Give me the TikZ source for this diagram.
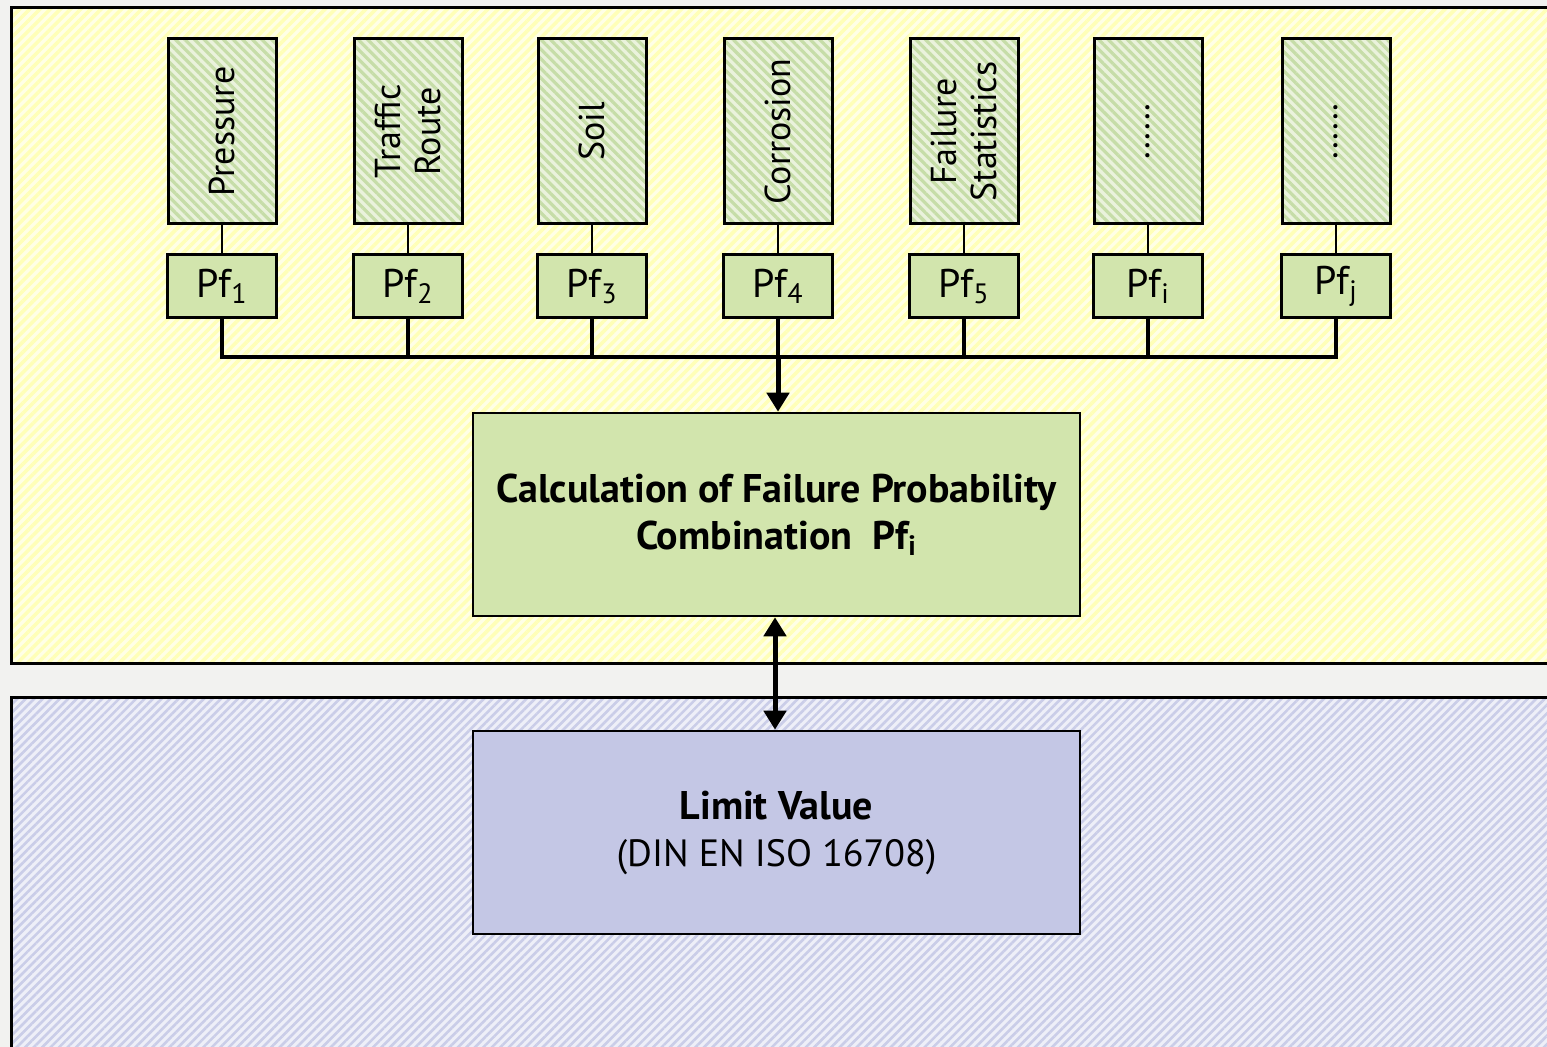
\documentclass[tikz,border=0pt]{standalone}
\usepackage{fontspec}
\setmainfont{PT Sans}
\usetikzlibrary{patterns.meta}
\usetikzlibrary{arrows.meta}

\definecolor{pageGray}{HTML}{F2F2F0}
\definecolor{panelYellow}{HTML}{FFFFE6}
\definecolor{stripeYellow}{HTML}{FFFFB8}
\definecolor{panelBlue}{HTML}{EEEFF8}
\definecolor{stripeBlue}{HTML}{CACDE8}
\definecolor{factorGreen}{HTML}{EAF2DC}
\definecolor{stripeGreen}{HTML}{C6DDA8}
\definecolor{boxGreen}{HTML}{D2E5AD}
\definecolor{limitBlue}{HTML}{C4C7E5}

\begin{document}
\begin{tikzpicture}
[x=0.5pt,y=-0.5pt,%
  panelDecorate/.style={draw,line width=1.5pt},%
  factorDecorate/.style={draw,line width=1.5pt,inner sep=0pt,
    minimum width=54pt,minimum height=92.5pt,preaction={fill=factorGreen},
    preaction={pattern={Lines[angle=-45,distance=3.4pt,line width=1.6pt]},pattern color=stripeGreen}},%
  pfDecorate/.style={draw,line width=1.5pt,fill=boxGreen,inner sep=0pt,
    minimum width=54.5pt,minimum height=31.5pt,font=\fontsize{20}{22}\selectfont},%
  resultDecorate/.style={draw,line width=1.3pt,inner sep=0pt,align=center,
    minimum width=303.5pt,minimum height=101.5pt,font=\fontsize{19}{23.5}\selectfont},%
  thinLine/.style={line width=0.8pt},%
  busLine/.style={line width=2pt},%
  arrowLine/.style={line width=2.5pt,-{Triangle[length=9.5pt,width=11pt]}},%
]
%% page and panels
\useasboundingbox (0,0) rectangle (1547,1047);
\clip (0,0) rectangle (1547,1047);
\fill[pageGray] (0,0) rectangle (1547,1047);
\path[panelDecorate,preaction={fill=panelYellow},
  preaction={pattern={Lines[angle=45,distance=3.6pt,line width=1.8pt]},pattern color=stripeYellow}]
  (11,8) rectangle (1560,663);
\path[panelDecorate,preaction={fill=panelBlue},
  preaction={pattern={Lines[angle=45,distance=3pt,line width=1.3pt]},pattern color=stripeBlue}]
  (11,697) rectangle (1560,1060);
%% factor boxes and their probabilities
\foreach \nodename/\x/\factor/\sub in {
  1/222/Pressure/1, 2/408/{Traffic\\Route}/2, 3/592/Soil/3,
  4/778/Corrosion/4, 5/964/{Failure\\Statistics}/5,
  6/1148/{.\kern1pt.\kern1pt.\kern1pt.\kern1pt.\kern1pt.}/i,
  7/1336/{.\kern1pt.\kern1pt.\kern1pt.\kern1pt.\kern1pt.}/j}
{
  \node[factorDecorate,label={[rotate=90,align=center,font=\fontsize{18}{20}\selectfont]center:\factor}]
    (f\nodename) at (\x,131.5) {};
  \node[pfDecorate] (p\nodename) at (\x,286.5) {Pf\textsubscript{\sub}};
}
%% result boxes
\node[resultDecorate,fill=boxGreen] (calc) at (776.5,514.5)
  {\textbf{\fontsize{20}{23.5}\selectfont Calculation of Failure Probability}\\
   \textbf{\fontsize{20}{23.5}\selectfont Combination\ \ Pf\textsubscript{i}}};
\node[resultDecorate,fill=limitBlue] (limit) at (776.5,832.5)
  {\textbf{\fontsize{20}{23.5}\selectfont Limit Value}\\(DIN EN ISO 16708)};
%% connect factors to the combination
\coordinate (bus) at (0,357);
\foreach \i in {1,...,7}
{
  \draw[thinLine] (f\i.south) -- (p\i.north);
  \draw[busLine] (p\i.south) -- (p\i.south |- bus);
}
\draw[busLine,line cap=rect] (p1.south |- bus) -- (p7.south |- bus);
\draw[arrowLine] (p4.south |- bus) -- (p4.south |- calc.north);
\draw[arrowLine,{Triangle[length=9.5pt,width=11pt]}-{Triangle[length=9.5pt,width=11pt]}]
  ([xshift=-0.75pt]calc.south) -- ([xshift=-0.75pt]limit.north);
\end{tikzpicture}
\end{document}
